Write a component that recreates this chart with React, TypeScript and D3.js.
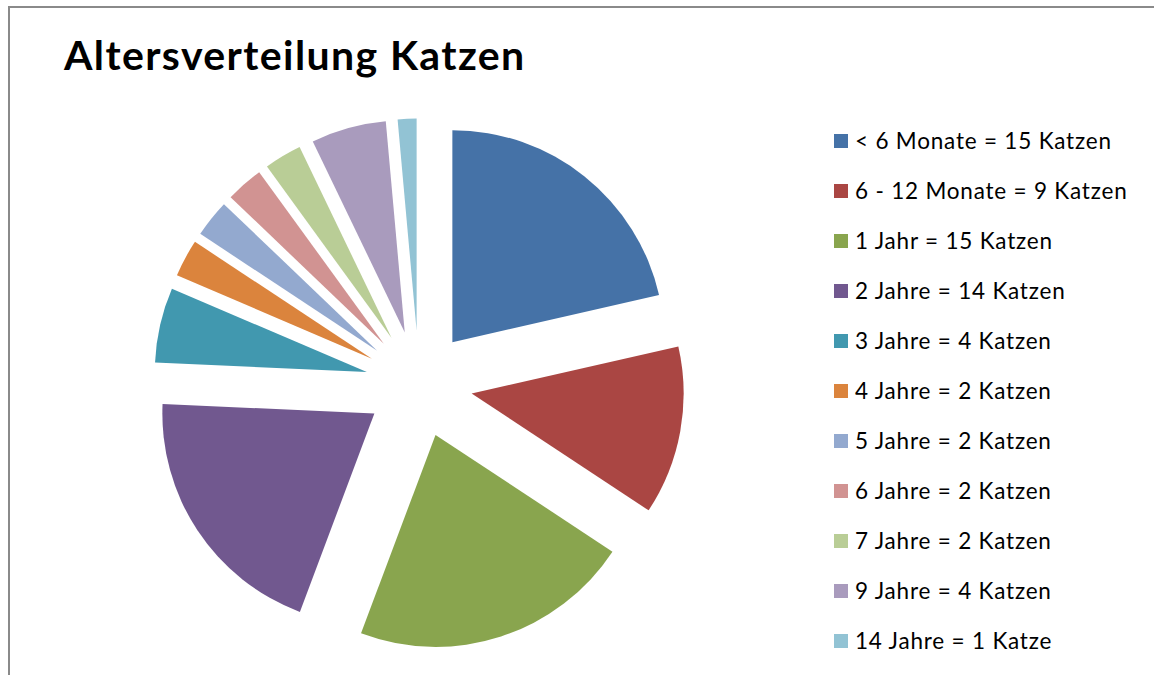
import React, { useRef, useEffect } from "react";
import * as d3 from "d3";

const categories = [
  "< 6 Monate",
  "6 - 12 Monate",
  "1 Jahr",
  "2 Jahre",
  "3 Jahre",
  "4 Jahre",
  "5 Jahre",
  "6 Jahre",
  "7 Jahre",
  "9 Jahre",
  "14 Jahre",
];
const counts = [15, 9, 15, 14, 4, 2, 2, 2, 2, 4, 1];
const colors = [
  "#4572A7",
  "#AA4643",
  "#89A54E",
  "#71588F",
  "#4198AF",
  "#DB843D",
  "#93A9CF",
  "#D19392",
  "#B9CD96",
  "#A99BBD",
  "#92C3D4",
];

export default function App() {
  const svgRef = useRef<SVGSVGElement>(null);

  useEffect(() => {
    const width = 1154;
    const height = 675;
    const svg = d3.select(svgRef.current);
    svg.attr("viewBox", `0 0 ${width} ${height}`);
    svg.selectAll("*").remove();

    const font = "Lato, 'Open Sans', sans-serif";

    // chart frame (runs off the right and bottom)
    svg.append("rect")
      .attr("x", 9)
      .attr("y", 7)
      .attr("width", width + 20)
      .attr("height", height + 20)
      .attr("fill", "#fff")
      .attr("stroke", "#8a8a8a")
      .attr("stroke-width", 2);

    svg.append("text")
      .attr("x", 64)
      .attr("y", 70)
      .attr("font-family", font)
      .attr("font-weight", 700)
      .attr("font-size", 41)
      .attr("letter-spacing", 1.4)
      .attr("fill", "#000")
      .text("Altersverteilung Katzen");

    const cx = 419;
    const cy = 384;
    const radius = 212;
    const explode = 53.5;

    const pie = d3.pie<number>().sort(null).value(d => d);
    const arcs = pie(counts);
    const arc = d3.arc<d3.PieArcDatum<number>>().innerRadius(0).outerRadius(radius);

    const g = svg.append("g").attr("transform", `translate(${cx},${cy})`);
    g.selectAll("path")
      .data(arcs)
      .join("path")
      .attr("d", arc)
      .attr("fill", (d, i) => colors[i])
      .attr("transform", d => {
        const mid = (d.startAngle + d.endAngle) / 2;
        return `translate(${explode * Math.sin(mid)},${-explode * Math.cos(mid)})`;
      });

    const y = d3.scalePoint<string>().domain(categories).range([141, 641]);
    const legend = svg.append("g");
    const rows = legend.selectAll("g")
      .data(categories)
      .join("g")
      .attr("transform", d => `translate(834,${y(d)})`);

    rows.append("rect")
      .attr("x", 0)
      .attr("y", -7)
      .attr("width", 14)
      .attr("height", 14)
      .attr("fill", (d, i) => colors[i]);

    rows.append("text")
      .attr("x", 21)
      .attr("y", 0)
      .attr("dy", "0.36em")
      .attr("font-family", font)
      .attr("font-size", 22.5)
      .attr("letter-spacing", 0.8)
      .attr("fill", "#000")
      .text((d, i) => `${d} = ${counts[i]} ${counts[i] === 1 ? "Katze" : "Katzen"}`);
  }, []);

  return (
    <svg
      ref={svgRef}
      width={1154}
      height={675}
      style={{ position: "absolute", left: 0, top: 0, display: "block" }}
    />
  );
}
